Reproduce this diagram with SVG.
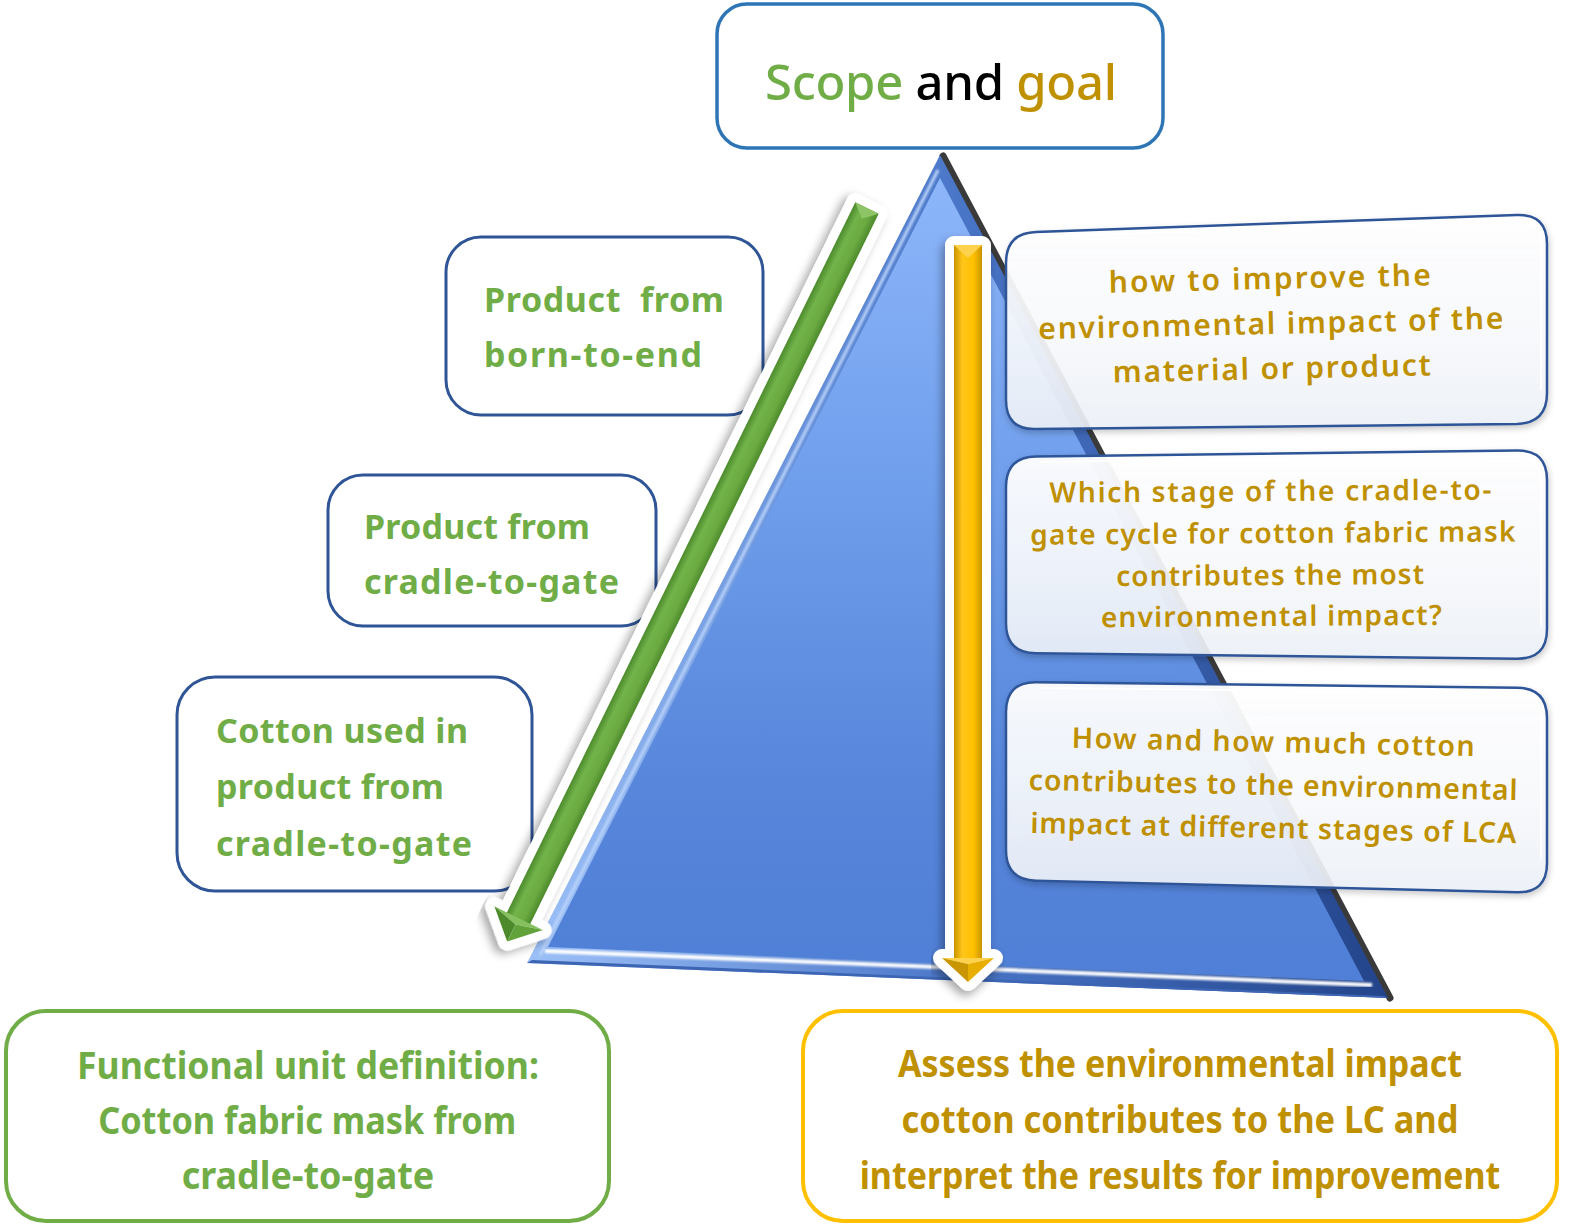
<svg xmlns="http://www.w3.org/2000/svg" width="1573" height="1232" viewBox="0 0 1573 1232">
  <defs>
    <style>
      .lbl { font-family: "Noto Sans", "Liberation Sans", sans-serif; font-weight: 700; }
      .green { fill: #70AD47; }
      .gold { fill: #BF9000; }
      .leftbox { fill: #FFFFFF; stroke: #2F5597; stroke-width: 3; }
      .qbox { fill: url(#qFill); stroke: #2F5597; stroke-width: 2.5; filter: url(#soft); }
      .qedge { fill: none; stroke: #FFFFFF; stroke-width: 2; opacity: 0.9; }
      .qtext { font-family: "Noto Sans", "Liberation Sans", sans-serif; font-weight: 600; fill: #BF9000; text-anchor: middle; }
      .cond { font-family: "Noto Sans", "Liberation Sans", sans-serif; font-weight: 700; font-size: 34px; text-anchor: middle; }
    </style>
    <linearGradient id="triFill" x1="0" y1="0" x2="0" y2="1">
      <stop offset="0" stop-color="#8DB6FA"/>
      <stop offset="0.4" stop-color="#6E9DEB"/>
      <stop offset="0.75" stop-color="#5786DB"/>
      <stop offset="1" stop-color="#4F7FD6"/>
    </linearGradient>
    <linearGradient id="triBevel" x1="0" y1="0" x2="1" y2="0">
      <stop offset="0" stop-color="#9CC0F7"/>
      <stop offset="0.5" stop-color="#4A76C8"/>
      <stop offset="1" stop-color="#23448A"/>
    </linearGradient>
    <linearGradient id="qFill" x1="0" y1="0" x2="0" y2="1">
      <stop offset="0" stop-color="#FFFFFF" stop-opacity="0.95"/>
      <stop offset="0.6" stop-color="#F8FAFD" stop-opacity="0.91"/>
      <stop offset="1" stop-color="#EEF2F9" stop-opacity="0.9"/>
    </linearGradient>
    <linearGradient id="gShaft" x1="0" y1="0" x2="1" y2="0">
      <stop offset="0" stop-color="#4C8A2C"/>
      <stop offset="0.3" stop-color="#72B34A"/>
      <stop offset="0.7" stop-color="#6AAA40"/>
      <stop offset="1" stop-color="#4C8A2C"/>
    </linearGradient>
    <linearGradient id="yShaft" x1="0" y1="0" x2="1" y2="0">
      <stop offset="0" stop-color="#C99500"/>
      <stop offset="0.3" stop-color="#FFC51A"/>
      <stop offset="0.7" stop-color="#FFC000"/>
      <stop offset="1" stop-color="#C99500"/>
    </linearGradient>
    <filter id="soft" x="-10%" y="-10%" width="120%" height="130%">
      <feDropShadow dx="1" dy="3" stdDeviation="3" flood-color="#000" flood-opacity="0.22"/>
    </filter>
    <filter id="arrowShadow" x="-20%" y="-10%" width="140%" height="120%">
      <feDropShadow dx="-3" dy="5" stdDeviation="5" flood-color="#000" flood-opacity="0.35"/>
    </filter>
    <filter id="glow" x="-5%" y="-5%" width="110%" height="110%">
      <feGaussianBlur stdDeviation="1.2"/>
    </filter>
  </defs>

  <!-- central pyramid -->
  <g id="pyramid">
    <line x1="943" y1="156" x2="1390" y2="998" stroke="#3A3A3A" stroke-width="7" stroke-linecap="round"/>
    <polygon points="940,155 1388,998 527,963" fill="url(#triBevel)"/>
    <polygon points="940,178 1364,981 548,947" fill="url(#triFill)"/>
    <line x1="938" y1="170" x2="540" y2="955" stroke="#B9D3FA" stroke-width="3" filter="url(#glow)"/>
    <line x1="545" y1="951" x2="1372" y2="985" stroke="#FFFFFF" stroke-width="4" filter="url(#glow)"/>
    <polygon points="532,960 1384,996 1388,998 527,963" fill="#3C65B4"/>
  </g>

  <!-- scope / goal header -->
  <g id="header">
    <rect x="717" y="4" width="446" height="144" rx="30" fill="#FFFFFF" stroke="#2E75B6" stroke-width="3.5"/>
    <text x="941" y="100" text-anchor="middle" font-family="Noto Sans, Liberation Sans, sans-serif" font-size="49" font-weight="500" textLength="352"><tspan fill="#70AD47">Scope</tspan><tspan fill="#000000"> and </tspan><tspan fill="#BF9000">goal</tspan></text>
  </g>

  <!-- question boxes on the right -->
  <g id="q1">
    <path class="qbox" d="M1036,232 L1517,215 Q1547,214 1547,244 L1547,393 Q1547,423 1517,424 L1036,429 Q1006,430 1006,400 L1006,263 Q1006,233 1036,232 Z"/>
    <path class="qedge" d="M1040,237 L1515,220 Q1541,219 1541,246 L1541,390"/>
    <g transform="rotate(-1.3 1271 333)">
      <text class="qtext" x="1271" y="289" font-size="30" textLength="322">how to improve the</text>
      <text class="qtext" x="1271" y="334" font-size="30" textLength="465">environmental impact of the</text>
      <text class="qtext" x="1271" y="379" font-size="30" textLength="318">material or product</text>
    </g>
  </g>
  <g id="q2">
    <path class="qbox" d="M1036,456.6 L1517,450.4 Q1547,450 1547,480 L1547,629 Q1547,659 1517,658.7 L1036,653.3 Q1006,653 1006,623 L1006,487 Q1006,457 1036,456.6 Z"/>
    <path class="qedge" d="M1040,462 L1515,456 Q1541,456 1541,482 L1541,627"/>
    <g transform="rotate(-0.4 1272 563)">
      <text class="qtext" x="1271" y="501" font-size="28" textLength="442">Which stage of the cradle-to-</text>
      <text class="qtext" x="1273" y="543" font-size="28" textLength="485">gate cycle for cotton fabric mask</text>
      <text class="qtext" x="1270" y="585" font-size="28" textLength="308">contributes the most</text>
      <text class="qtext" x="1271" y="626" font-size="28" textLength="341">environmental impact?</text>
    </g>
  </g>
  <g id="q3">
    <path class="qbox" d="M1036,682.3 L1517,687.7 Q1547,688 1547,718 L1547,863 Q1547,893 1517,892.3 L1036,880.7 Q1006,880 1006,850 L1006,712 Q1006,682 1036,682.3 Z"/>
    <path class="qedge" d="M1040,688 L1515,693 Q1541,694 1541,720 L1541,860"/>
    <g transform="rotate(1.2 1273 795)">
      <text class="qtext" x="1272" y="752" font-size="28.5" textLength="403">How and how much cotton</text>
      <text class="qtext" x="1273" y="795" font-size="28.5" textLength="489">contributes to the environmental</text>
      <text class="qtext" x="1274" y="838" font-size="28.5" textLength="486">impact at different stages of LCA</text>
    </g>
  </g>

  <!-- scope boxes on the left -->
  <g id="scope1">
    <rect class="leftbox" x="446" y="237" width="317" height="178" rx="35"/>
    <text class="lbl green" x="484" y="312" font-size="34" textLength="240" style="white-space:pre">Product  from</text>
    <text class="lbl green" x="484" y="367" font-size="34" textLength="218">born-to-end</text>
  </g>
  <g id="scope2">
    <rect class="leftbox" x="328" y="475" width="328" height="151" rx="35"/>
    <text class="lbl green" x="364" y="539" font-size="34" textLength="226">Product from</text>
    <text class="lbl green" x="364" y="594" font-size="34" textLength="255">cradle-to-gate</text>
  </g>
  <g id="scope3">
    <rect class="leftbox" x="177" y="677" width="355" height="214" rx="38"/>
    <text class="lbl green" x="216" y="743" font-size="34" textLength="252">Cotton used in</text>
    <text class="lbl green" x="216" y="799" font-size="34" textLength="228">product from</text>
    <text class="lbl green" x="216" y="856" font-size="34" textLength="256">cradle-to-gate</text>
  </g>

  <!-- connectors: narrowing scope arrow and deepening goal arrow -->
  <g id="connectors">
    <g transform="translate(867,208) rotate(26.13)">
      <path d="M-13,0 L13,0 L13,791 L27,791 L0,817 L-27,791 L-13,791 Z" fill="#FFFFFF" stroke="#FFFFFF" stroke-width="18" stroke-linejoin="round" filter="url(#arrowShadow)"/>
      <rect x="-13" y="0" width="26" height="792" fill="url(#gShaft)"/>
      <polygon points="-13,0 13,0 0,12" fill="#8CC466"/>
      <polygon points="-27,791 27,791 0,798" fill="#86C05E"/>
      <polygon points="-27,791 0,798 0,817" fill="#4C8A2C"/>
      <polygon points="27,791 0,798 0,817" fill="#62A23A"/>
    </g>
    <g transform="translate(968,245)">
      <path d="M-14,0 L14,0 L14,713 L26,713 L0,737 L-26,713 L-14,713 Z" fill="#FFFFFF" stroke="#FFFFFF" stroke-width="18" stroke-linejoin="round" filter="url(#arrowShadow)"/>
      <rect x="-14" y="0" width="28" height="714" fill="url(#yShaft)"/>
      <polygon points="-14,0 14,0 0,13" fill="#FFD24D"/>
      <polygon points="-26,713 26,713 0,719" fill="#FFD24D"/>
      <polygon points="-26,713 0,719 0,737" fill="#C99500"/>
      <polygon points="26,713 0,719 0,737" fill="#E8AE00"/>
    </g>
  </g>

  <!-- outcome boxes (condensed lettering via horizontal scale) -->
  <g id="functional-unit">
    <rect x="6" y="1011" width="603" height="210" rx="40" fill="#FFFFFF" stroke="#70AD47" stroke-width="4"/>
    <g transform="translate(308,0) scale(0.88,1.1)">
      <text class="cond green" x="0" y="980.5" textLength="525" lengthAdjust="spacingAndGlyphs">Functional unit definition:</text>
      <text class="cond green" x="-1" y="1030.5" textLength="475" lengthAdjust="spacingAndGlyphs">Cotton fabric mask from</text>
      <text class="cond green" x="0" y="1080.5" textLength="287" lengthAdjust="spacingAndGlyphs">cradle-to-gate</text>
    </g>
  </g>
  <g id="assessment">
    <rect x="803" y="1011" width="754" height="210" rx="40" fill="#FFFFFF" stroke="#FFC000" stroke-width="4"/>
    <g transform="translate(1180,0) scale(0.88,1.1)">
      <text class="cond gold" x="0" y="979" textLength="641" lengthAdjust="spacingAndGlyphs">Assess the environmental impact</text>
      <text class="cond gold" x="0" y="1030" textLength="633" lengthAdjust="spacingAndGlyphs">cotton contributes to the LC and</text>
      <text class="cond gold" x="0" y="1080.5" textLength="728" lengthAdjust="spacingAndGlyphs">interpret the results for improvement</text>
    </g>
  </g>
</svg>
